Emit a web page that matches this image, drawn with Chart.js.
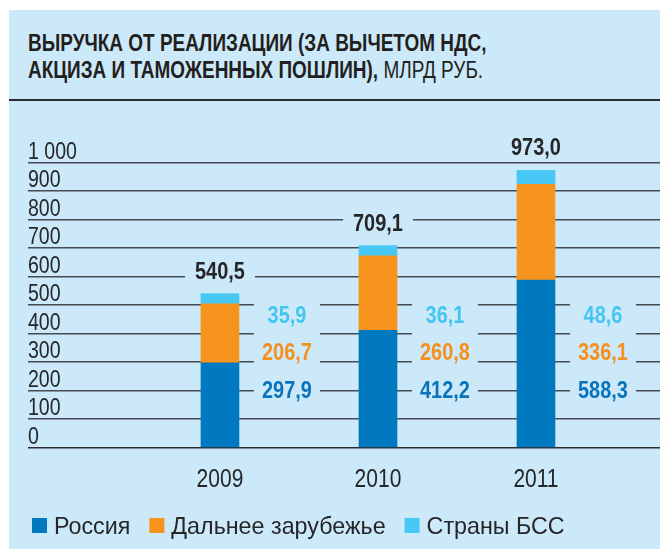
<!DOCTYPE html>
<html lang="ru">
<head>
<meta charset="utf-8">
<title>Выручка от реализации</title>
<script src="https://cdn.jsdelivr.net/npm/chart.js@4"></script>
<style>
  html, body { margin: 0; padding: 0; }
  body { width: 660px; height: 550px; background: #fff; position: relative; overflow: hidden; }
  #panel { position: absolute; left: 9px; top: 10px; width: 651px; height: 539px; background: #cce9f9; }
  #title {
    position: absolute; left: 28px; top: 29px; margin: 0;
    font: bold 24px "Liberation Sans", Arial, sans-serif;
    line-height: 27px; color: #231f20; white-space: nowrap;
    transform: scaleX(0.79); transform-origin: 0 0;
  }
  #title span { font-weight: normal; }
  #rule { position: absolute; left: 9px; top: 99px; width: 651px; height: 2px; background: #2b2b2e; }
  #wrap { position: absolute; left: 0; top: 100px; width: 660px; height: 450px; }
</style>
</head>
<body>
<div id="panel"></div>
<h1 id="title">ВЫРУЧКА ОТ РЕАЛИЗАЦИИ (ЗА ВЫЧЕТОМ НДС,<br>АКЦИЗА И ТАМОЖЕННЫХ ПОШЛИН),<span> МЛРД РУБ.</span></h1>
<div id="rule"></div>
<div id="wrap"><canvas id="revenueChart"></canvas></div>
<script>
const years = [2009, 2010, 2011];
const russia = [297.9, 412.2, 588.3];
const farAbroad = [206.7, 260.8, 336.1];
const cis = [35.9, 36.1, 48.6];
const yTickLabels = ['0', '100', '200', '300', '400', '500', '600', '700', '800', '900', '1 000'];

const BG = '#cce9f9';
const DARK = '#262629';
const FONT = '"Liberation Sans", Arial, sans-serif';

const fmt = (v) => v.toFixed(1).replace('.', ',');

// condensed text: regular face squeezed horizontally
function narrowText(ctx, text, x, y, sx) {
  ctx.save();
  ctx.translate(x, y);
  ctx.scale(sx, 1);
  ctx.fillText(text, 0, 0);
  ctx.restore();
}

// axis labels: values above their grid lines, years under the columns
const axisLabels = {
  id: 'axisLabels',
  afterDraw(chart) {
    const { ctx, scales: { x, y } } = chart;
    ctx.save();
    ctx.fillStyle = DARK;
    ctx.textBaseline = 'alphabetic';
    ctx.textAlign = 'left';
    ctx.font = '23px ' + FONT;
    y.ticks.forEach((t, i) => {
      narrowText(ctx, yTickLabels[i], 28, y.getPixelForValue(t.value) - 4, 0.85);
    });
    ctx.textAlign = 'center';
    ctx.font = '25px ' + FONT;
    years.forEach((yr) => {
      narrowText(ctx, String(yr), x.getPixelForValue(yr), y.getPixelForValue(0) + 39, 0.84);
    });
    ctx.restore();
  }
};

// values next to each column; the grid is cut out behind them
const valueLabels = {
  id: 'valueLabels',
  afterDatasetsDraw(chart) {
    const { ctx, scales: { y } } = chart;
    const bars = chart.getDatasetMeta(0).data;
    const rows = [
      { values: cis, color: '#45c5f2', level: 437 },
      { values: farAbroad, color: '#f5901e', level: 307 },
      { values: russia, color: '#0a74bb', level: 174 }
    ];
    const sx = 0.83;
    ctx.save();
    ctx.textAlign = 'center';
    ctx.textBaseline = 'alphabetic';
    ctx.font = 'bold 24px ' + FONT;
    years.forEach((year, i) => {
      const bar = bars[i];
      const right = bar.x + bar.width / 2;
      const boxLeft = right + 15;
      const boxW = 66;
      const top = y.getPixelForValue(540);
      ctx.fillStyle = BG;
      ctx.fillRect(boxLeft, top, boxW, y.getPixelForValue(160) - top);
      rows.forEach((row) => {
        ctx.fillStyle = row.color;
        narrowText(ctx, fmt(row.values[i]), boxLeft + boxW / 2, y.getPixelForValue(row.level), sx);
      });

      const total = russia[i] + farAbroad[i] + cis[i];
      const text = fmt(total);
      const base = y.getPixelForValue(total) - 15;
      const w = ctx.measureText(text).width * sx + 20;
      ctx.fillStyle = BG;
      ctx.fillRect(bar.x - w / 2, base - 20, w, 26);
      ctx.fillStyle = DARK;
      narrowText(ctx, text, bar.x, base, sx);
    });
    ctx.restore();
  }
};

// legend row under the axis: square, gap, name
const legendRow = {
  id: 'legendRow',
  afterDraw(chart) {
    const { ctx } = chart;
    const sx = 0.97;
    let x = 32;
    const baseline = 434;
    ctx.save();
    ctx.font = '24px ' + FONT;
    ctx.textBaseline = 'alphabetic';
    ctx.textAlign = 'left';
    chart.data.datasets.forEach((ds) => {
      ctx.fillStyle = ds.backgroundColor;
      ctx.fillRect(x, baseline - 16, 15, 15);
      x += 15 + 7;
      ctx.fillStyle = DARK;
      narrowText(ctx, ds.label, x, baseline, sx);
      x += ctx.measureText(ds.label).width * sx + 19;
    });
    ctx.restore();
  }
};

new Chart(document.getElementById('revenueChart'), {
  type: 'bar',
  data: {
    labels: years,
    datasets: [
      { label: 'Россия', data: russia, backgroundColor: '#0079c1' },
      { label: 'Дальнее зарубежье', data: farAbroad, backgroundColor: '#f7941d' },
      { label: 'Страны БСС', data: cis, backgroundColor: '#48c8f5' }
    ]
  },
  options: {
    responsive: true,
    maintainAspectRatio: false,
    animation: false,
    layout: { padding: { top: 62.7, left: 28, right: 0, bottom: 102.3 } },
    datasets: { bar: { barThickness: 38 } },
    plugins: {
      legend: { display: false },
      tooltip: { enabled: false }
    },
    scales: {
      x: {
        type: 'linear',
        stacked: true,
        offset: false,
        min: 2007.785,
        max: 2011.785,
        afterBuildTicks: (scale) => { scale.ticks = years.map((v) => ({ value: v })); },
        grid: { display: false, drawTicks: false },
        border: { display: false },
        ticks: { display: false, padding: 0 }
      },
      y: {
        stacked: true,
        min: 0,
        max: 1000,
        border: { display: false },
        grid: {
          drawTicks: false,
          lineWidth: 1.6,
          color: (c) => (c.tick && c.tick.value === 0 ? '#2b2b2e' : '#454b51')
        },
        ticks: { stepSize: 100, autoSkip: false, display: false, padding: 0 }
      }
    }
  },
  plugins: [valueLabels, axisLabels, legendRow]
});
</script>
</body>
</html>
